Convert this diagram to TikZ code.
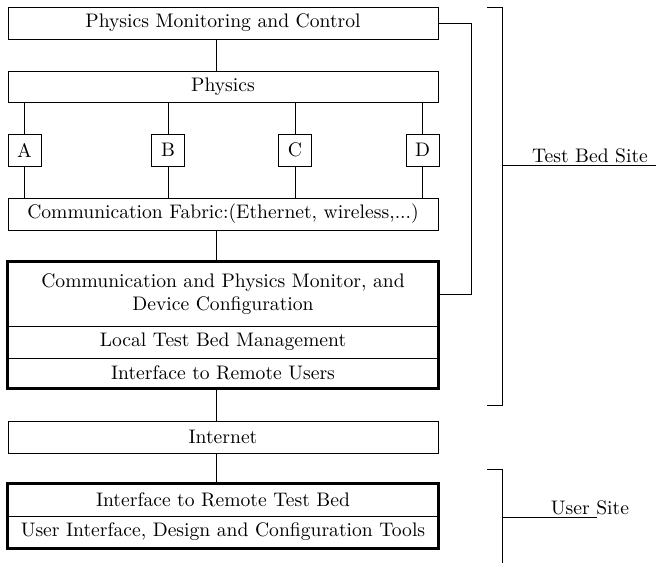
\documentclass[tikz,border=0pt]{standalone}
\begin{document}
\begin{tikzpicture}[x=0.51pt,y=-0.51pt,
  every path/.style={line width=0.5pt},
  box/.style={draw, line width=0.5pt, minimum width=430*0.51pt, minimum height=32*0.51pt, inner sep=0pt, anchor=center},
  sbox/.style={draw, line width=0.5pt, minimum width=33*0.51pt, minimum height=32*0.51pt, inner sep=0pt, anchor=center},
  heavy/.style={line width=1.5pt},
  lbl/.style={inner sep=1pt, anchor=south}
]
\useasboundingbox (0,0) rectangle (656,563);
% main stack
\node[box] (pmc) at (223,23) {Physics Monitoring and Control};
\node[box, minimum height=31*0.51pt] (phys) at (223,86.5) {Physics};
\node[sbox] (A) at (24.5,150) {A};
\node[sbox] (B) at (168,150) {B};
\node[sbox] (C) at (295,150) {C};
\node[sbox] (D) at (422.5,150) {D};
\node[box] (fab) at (223,214) {Communication Fabric:(Ethernet, wireless,...)};
\node[box, minimum height=64*0.51pt, align=center] (cpm) at (223,294) {Communication and Physics Monitor, and\\Device Configuration};
\node[box] (ltb) at (223,342) {Local Test Bed Management};
\node[box, minimum height=30*0.51pt] (iru) at (223,373) {Interface to Remote Users};
\draw[heavy] (cpm.north west) rectangle (iru.south east);
\node[box] (net) at (223,437) {Internet};
\node[box] (irt) at (223,500) {Interface to Remote Test Bed};
\node[box] (uid) at (223,532) {User Interface, Design and Configuration Tools};
\draw[heavy] (irt.north west) rectangle (uid.south east);
% vertical connector column
\coordinate (lx) at (216,0);
\draw (pmc.south -| lx) -- (phys.north -| lx);
\draw (fab.south -| lx) -- (cpm.north -| lx);
\draw (iru.south -| lx) -- (net.north -| lx);
\draw (net.south -| lx) -- (irt.north -| lx);
\foreach \n in {A,B,C,D}{
  \draw (phys.south -| \n) -- (\n.north);
  \draw (\n.south) -- (fab.north -| \n);
}
% side loop
\coordinate (rx) at (471,0);
\draw (pmc.east) -- (pmc.east -| rx) -- (cpm.east -| rx) -- (cpm.east);
% brackets
\coordinate (tb1) at (487,7);
\coordinate (tb2) at (502,7);
\coordinate (tb3) at (502,405);
\coordinate (tb4) at (487,405);
\draw (tb1) -- (tb2) -- (tb3) -- (tb4);
\coordinate (tbm) at (502,165);
\coordinate (tbe) at (656,165);
\draw (tbm) -- (tbe);
\node[lbl] (tbs) at (590,165) {Test Bed Site};
\coordinate (us1) at (487,469);
\coordinate (us2) at (502,469);
\coordinate (us3) at (502,563);
\draw (us1) -- (us2) -- (us3);
\coordinate (usm) at (502,517);
\coordinate (use) at (597,517);
\draw (usm) -- (use);
\node[lbl] (uss) at (590,517) {User Site};
\end{tikzpicture}
\end{document}
